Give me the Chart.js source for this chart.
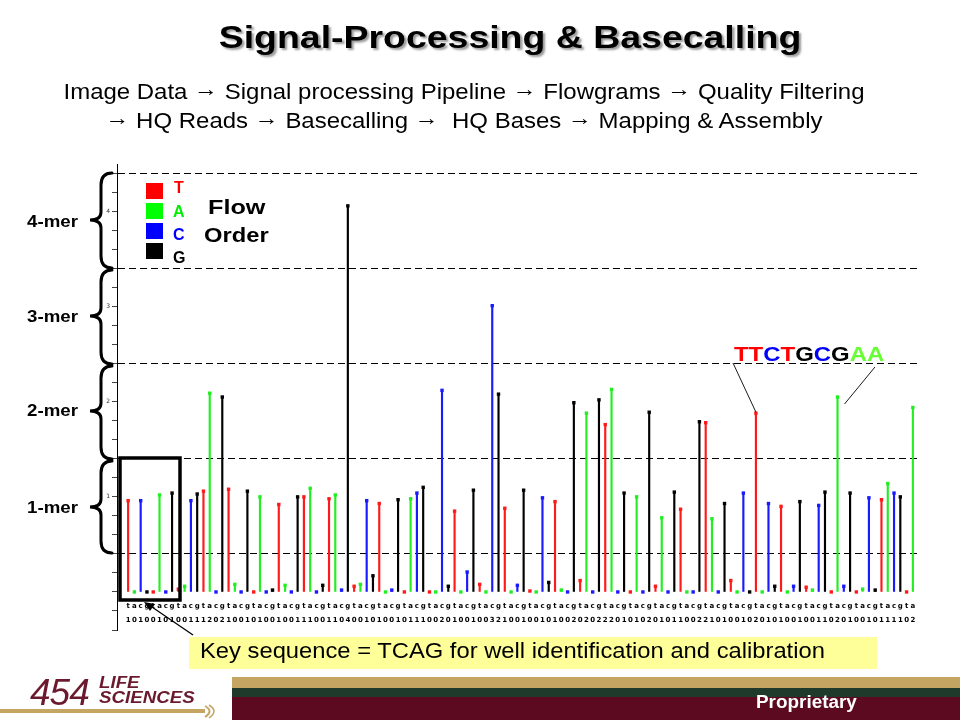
<!DOCTYPE html>
<html>
<head>
<meta charset="utf-8">
<script src="https://cdn.jsdelivr.net/npm/chart.js@4.4.1/dist/chart.umd.min.js"></script>
<style>
  html, body { margin:0; padding:0; background:#fff; }
  #slide { position:relative; width:960px; height:720px; overflow:hidden; background:#fff; font-family:"Liberation Sans", Arial, sans-serif; }
  #c { position:absolute; left:0; top:0; }
  .t { position:absolute; white-space:nowrap; }
  .sl { transform-origin:left center; }
  .sc { transform-origin:center center; }
  .ar { position:relative; top:-3px; }
  svg { position:absolute; left:0; top:0; }
</style>
</head>
<body>
<div id="slide">
  <canvas id="c" width="960" height="720"></canvas>
  <svg width="960" height="720" viewBox="0 0 960 720">
    <g fill="none" stroke="#000" stroke-width="3" stroke-linecap="round">
      <path d="M112 173 Q101 173 101 185 L101 212 Q101 220 90 220 Q101 220 101 228 L101 256 Q101 268 112 268"/>
      <path d="M112 270 Q101 270 101 282 L101 308 Q101 316 90 316 Q101 316 101 324 L101 352 Q101 364 112 364"/>
      <path d="M112 366 Q101 366 101 378 L101 403 Q101 411 90 411 Q101 411 101 419 L101 447 Q101 459 112 459"/>
      <path d="M112 461 Q101 461 101 473 L101 499 Q101 507 90 507 Q101 507 101 515 L101 541 Q101 553 112 553"/>
    </g>
    <rect x="120" y="458" width="60" height="142" fill="none" stroke="#000" stroke-width="3.5"/>
    <rect x="189" y="637" width="688" height="32" fill="#ffff99"/>
    <line x1="193" y1="635" x2="149" y2="605" stroke="#000" stroke-width="1.3"/>
    <polygon points="144,602 155,604 150,611" fill="#000"/>
    <rect x="146" y="183" width="17" height="16" fill="#ff0000"/>
    <rect x="146" y="203" width="17" height="16" fill="#00ff00"/>
    <rect x="146" y="223" width="17" height="16" fill="#0000ff"/>
    <rect x="146" y="243" width="17" height="16" fill="#000000"/>
    <!-- footer -->
    <rect x="232" y="677" width="728" height="11" fill="#c4a662"/>
    <rect x="232" y="688" width="728" height="9" fill="#1f3a2b"/>
    <rect x="232" y="697" width="728" height="23" fill="#5c0a20"/>
    <path d="M0 711 L205 711" stroke="#c4a662" stroke-width="4"/>
    <path d="M205 706 Q214 711 205 717" stroke="#c4a662" stroke-width="2" fill="none"/>
    <path d="M209 705 Q219 711 209 718" stroke="#c4a662" stroke-width="1.5" fill="none"/>
  </svg>

  <div class="t sc" style="left:0;width:1020px;top:19px;text-align:center;font-size:32px;font-weight:bold;color:#000;text-shadow:2px 2px 2px #999;transform:scaleX(1.17);">Signal-Processing &amp; Basecalling</div>
  <div class="t sc" style="left:0;width:928px;top:79px;text-align:center;font-size:22px;color:#000;transform:scaleX(1.09);">Image Data <span class="ar">→</span> Signal processing Pipeline <span class="ar">→</span> Flowgrams <span class="ar">→</span> Quality Filtering</div>
  <div class="t sc" style="left:0;width:928px;top:108px;text-align:center;font-size:22px;color:#000;transform:scaleX(1.09);"><span class="ar">→</span> HQ Reads <span class="ar">→</span> Basecalling <span class="ar">→</span>&nbsp; HQ Bases <span class="ar">→</span> Mapping &amp; Assembly</div>

  <div class="t sl" style="left:27px;top:212px;font-size:17px;font-weight:bold;transform:scaleX(1.1);">4-mer</div>
  <div class="t sl" style="left:27px;top:307px;font-size:17px;font-weight:bold;transform:scaleX(1.1);">3-mer</div>
  <div class="t sl" style="left:27px;top:401px;font-size:17px;font-weight:bold;transform:scaleX(1.1);">2-mer</div>
  <div class="t sl" style="left:27px;top:498px;font-size:17px;font-weight:bold;transform:scaleX(1.1);">1-mer</div>

  <div class="t" style="left:174px;top:179px;font-size:16px;font-weight:bold;color:#ff0000;">T</div>
  <div class="t" style="left:173px;top:203px;font-size:16px;font-weight:bold;color:#00ee00;">A</div>
  <div class="t" style="left:173px;top:226px;font-size:16px;font-weight:bold;color:#0000ff;">C</div>
  <div class="t" style="left:173px;top:249px;font-size:16px;font-weight:bold;color:#000;">G</div>
  <div class="t sl" style="left:208px;top:195px;font-size:21px;font-weight:bold;transform:scaleX(1.2);">Flow</div>
  <div class="t sl" style="left:204px;top:223px;font-size:21px;font-weight:bold;transform:scaleX(1.13);">Order</div>

  <div class="t sl" style="left:734px;top:342px;font-size:21px;font-weight:bold;transform:scaleX(1.14);"><span style="color:#ff0000">TT</span><span style="color:#0000ff">C</span><span style="color:#ff0000">T</span><span style="color:#000">G</span><span style="color:#0000ff">C</span><span style="color:#000">G</span><span style="color:#66ff33">AA</span></div>

  <div class="t sl" style="left:200px;top:638px;font-size:22px;color:#000;transform:scaleX(1.08);">Key sequence = TCAG for well identification and calibration</div>

  <div class="t" style="left:30px;top:672px;font-size:37px;font-style:italic;color:#6b1a2e;letter-spacing:-1px;">454</div>
  <div class="t sl" style="left:99px;top:675px;font-size:16px;font-style:italic;font-weight:bold;color:#6b1a2e;line-height:15px;transform:scaleX(1.17);">LIFE<br>SCIENCES</div>
  <div class="t sl" style="left:756px;top:692px;font-size:18px;font-weight:bold;color:#fff;transform:scaleX(1.05);">Proprietary</div>
</div>

<script>
// Flow order (cycled for every flow) and per-flow signal
const flowOrder = ['T', 'A', 'C', 'G'];
const flowLetters = ['t', 'a', 'c', 'g'];
const signal = [
  0.96, 0.00, 0.96, 0.00, 0.00, 1.02, 0.00, 1.04,
  0.03, 0.06, 0.96, 1.03, 1.06, 2.09, 0.00, 2.05,
  1.08, 0.08, 0.00, 1.06, 0.00, 1.00, 0.00, 0.02,
  0.92, 0.07, 0.00, 1.00, 1.00, 1.09, 0.00, 0.07,
  0.98, 1.02, 0.02, 4.06, 0.06, 0.08, 0.96, 0.17,
  0.93, 0.00, 0.02, 0.97, 0.00, 0.98, 1.04, 1.10,
  0.00, 0.00, 2.12, 0.06, 0.85, 0.00, 0.21, 1.07,
  0.08, 0.00, 3.01, 2.08, 0.88, 0.00, 0.07, 1.07,
  0.01, 0.00, 0.99, 0.10, 0.95, 0.02, 0.00, 1.99,
  0.12, 1.88, 0.00, 2.02, 1.76, 2.13, 0.00, 1.04,
  0.00, 1.00, 0.00, 1.89, 0.06, 0.78, 0.00, 1.05,
  0.87, 0.00, 0.00, 1.79, 1.78, 0.77, 0.00, 0.93,
  0.12, 0.00, 1.04, 0.00, 1.88, 0.00, 0.93, 0.06,
  0.90, 0.00, 0.06, 0.95, 0.05, 0.02, 0.91, 1.05,
  0.00, 2.05, 0.06, 1.04, 0.00, 0.03, 0.99, 0.02,
  0.97, 1.14, 1.04, 1.00, 0.00, 1.94
];
// Called homopolymer lengths printed under each flow
const calls = [
  1,0,1,0, 0,1,0,1, 0,0,1,1, 1,2,0,2,
  1,0,0,1, 0,1,0,0, 1,0,0,1, 1,1,0,0,
  1,1,0,4, 0,0,1,0, 1,0,0,1, 0,1,1,1,
  0,0,2,0, 1,0,0,1, 0,0,3,2, 1,0,0,1,
  0,0,1,0, 1,0,0,2, 0,2,0,2, 2,2,0,1,
  0,1,0,2, 0,1,0,1, 1,0,0,2, 2,1,0,1,
  0,0,1,0, 2,0,1,0, 1,0,0,1, 0,0,1,1,
  0,2,0,1, 0,0,1,0, 1,1,1,1, 0,2
];
const yTickLabels = ['1', '2', '3', '4'];
const mersPointer = { start: 100, end: 113 }; // TTCTGCGAA annotation flows

const baseColors = { T: '#ff1a1a', A: '#22ee22', C: '#1a1aff', G: '#000000' };
const flowIdx = signal.map((_, i) => i);
const flowBase = flowIdx.map(i => flowOrder[i % 4]);
const colors = flowBase.map(b => baseColors[b]);
const points = signal.map((v, i) => ({ x: i, y: v }));

const annot = {
  id: 'annot',
  afterDatasetsDraw(chart) {
    const { ctx, scales: { x, y } } = chart;
    ctx.save();
    ctx.strokeStyle = '#000';
    ctx.lineWidth = 0.9;
    ctx.beginPath();
    ctx.moveTo(733, 363);
    ctx.lineTo(x.getPixelForValue(mersPointer.start), y.getPixelForValue(signal[mersPointer.start]) - 1);
    ctx.moveTo(875, 367);
    ctx.lineTo(x.getPixelForValue(mersPointer.end) + 7, y.getPixelForValue(signal[mersPointer.end]) + 7);
    ctx.stroke();
    ctx.restore();
  }
};

new Chart(document.getElementById('c'), {
  type: 'bar',
  data: {
    datasets: [
      {
        type: 'bar',
        data: points,
        backgroundColor: colors,
        borderWidth: 0,
        barThickness: 1.5,
        order: 2
      },
      {
        type: 'line',
        data: points,
        showLine: false,
        pointStyle: 'rect',
        pointRadius: 2.4,
        pointHoverRadius: 2.4,
        pointBorderWidth: 0,
        pointBackgroundColor: colors,
        pointBorderColor: colors,
        order: 1
      }
    ]
  },
  options: {
    responsive: false,
    animation: false,
    devicePixelRatio: 1,
    layout: { padding: { left: 97, right: 41, top: 164, bottom: 90 } },
    plugins: { legend: { display: false }, tooltip: { enabled: false } },
    scales: {
      x: {
        type: 'linear',
        position: { y: 0 },
        min: -1.264,
        max: 125.47,
        afterBuildTicks(scale) { scale.ticks = flowIdx.map(v => ({ value: v })); },
        grid: { display: false, drawTicks: false },
        border: { display: false },
        ticks: {
          autoSkip: false,
          maxRotation: 0,
          minRotation: 0,
          padding: 7,
          color: '#000',
          font: { family: 'DejaVu Sans', size: 7, weight: 'bold', lineHeight: 2.0 },
          callback: (v) => {
            const i = Math.round(v);
            return [flowLetters[i % 4], String(calls[i])];
          }
        }
      },
      y: {
        min: -0.4,
        max: 4.5,
        afterFit(scale) { scale.width = 20; },
        ticks: {
          stepSize: 0.2,
          padding: 2,
          color: '#333',
          font: { family: 'DejaVu Sans', size: 6 },
          callback: (v) => {
            const r = Math.round(v);
            if (Math.abs(v - r) < 1e-6 && r >= 1 && r <= 4) return yTickLabels[r - 1];
            return '';
          }
        },
        grid: {
          drawTicks: true,
          tickLength: 5,
          tickColor: (ctx) => (ctx.tick && ctx.tick.value > 4.45 ? 'rgba(0,0,0,0)' : '#444'),
          color: (ctx) => {
            const v = ctx.tick ? ctx.tick.value : 0;
            const f = v - Math.floor(v);
            return (v > 0 && Math.abs(f - 0.4) < 0.01) ? '#000' : 'rgba(0,0,0,0)';
          },
          lineWidth: 1
        },
        border: { display: true, color: '#000', width: 1, dash: [7, 4] }
      }
    }
  },
  plugins: [annot]
});
</script>
</body>
</html>
